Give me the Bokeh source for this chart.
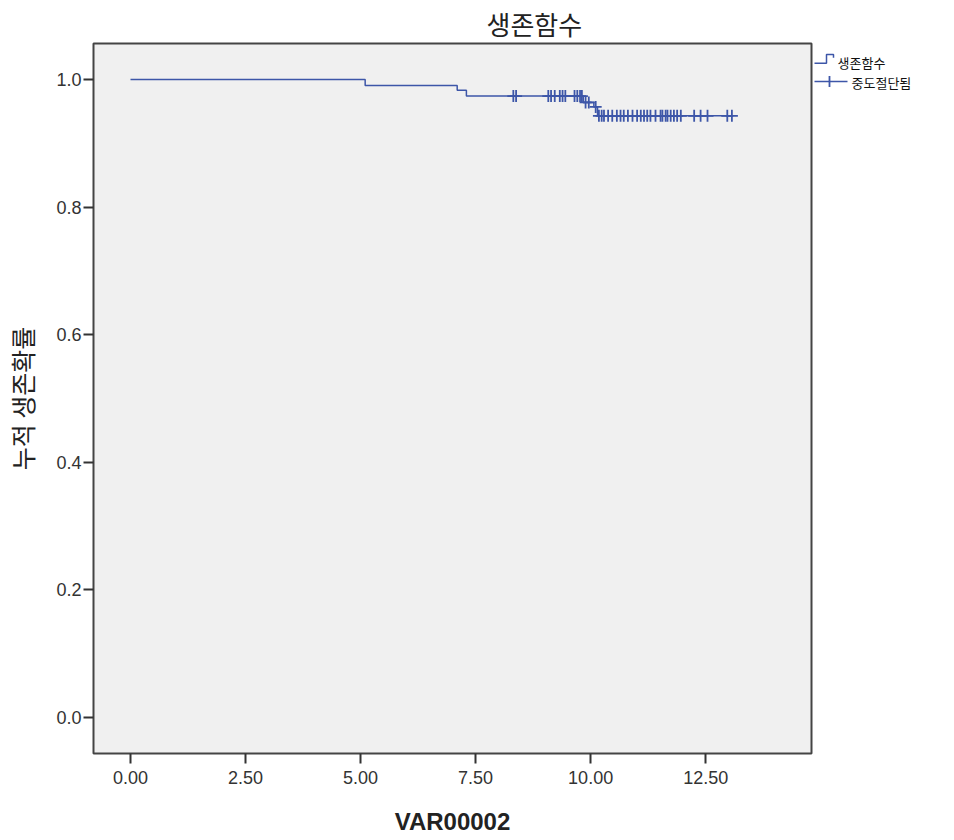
import numpy as np
from bokeh.plotting import figure
from bokeh.layouts import row
from bokeh.models import Range1d, FixedTicker, PrintfTickFormatter
from bokeh.core.properties import value
from bokeh.embed import file_html
from bokeh.resources import INLINE

# ---------------- data ----------------
event_times = [5.10, 7.10, 7.30, 9.84, 10.07, 10.15]
survival = [0.9906, 0.983, 0.974, 0.964, 0.957, 0.943]
censor_times = [8.32, 8.38, 9.08, 9.14, 9.22, 9.33, 9.39, 9.45, 9.65, 9.71,
                9.77, 9.81, 9.89, 9.96, 10.11, 10.18, 10.24, 10.29, 10.38,
                10.47, 10.57, 10.65, 10.72, 10.81, 10.91, 11.01, 11.09, 11.16,
                11.23, 11.30, 11.41, 11.52, 11.56, 11.63, 11.67, 11.74, 11.81,
                11.88, 11.96, 12.25, 12.39, 12.54, 12.97, 13.07]
x_ticks = [0.0, 2.5, 5.0, 7.5, 10.0, 12.5]
y_ticks = [0.0, 0.2, 0.4, 0.6, 0.8, 1.0]
title_text = "생존함수"
x_label = "VAR00002"
y_label = "누적 생존확률"
legend_labels = ["생존함수", "중도절단됨"]

# ---------------- derived ----------------
step_x = [0.0] + event_times + [max(censor_times)]
step_y = [1.0] + survival + [survival[-1]]
idx = np.searchsorted(np.array(event_times), np.array(censor_times), side="right")
levels = np.array([1.0] + survival)
censor_y = levels[idx]

BLUE = "#3D56A8"
KFONT = "Noto Sans CJK KR"
NFONT = "Liberation Sans"
H = 838

p = figure(width=813, height=H,
           x_range=Range1d(-0.804, 14.8), y_range=Range1d(-0.0564, 1.0564),
           output_backend="svg", toolbar_location=None,
           min_border_left=93, min_border_right=2,
           min_border_top=43, min_border_bottom=85)

p.step(step_x, step_y, mode="after", line_color=BLUE, line_width=1.5)
p.scatter(censor_times, censor_y, marker="cross", size=12,
          line_color=BLUE, line_width=1.8)

p.background_fill_color = "#F0F0F0"
p.border_fill_color = "white"
p.outline_line_color = "#444444"
p.outline_line_width = 2
p.grid.visible = False

p.title.text = title_text
p.title.text_font = KFONT
p.title.text_font_size = "26px"
p.title.text_font_style = "normal"
p.title.text_color = "#222222"
p.title.align = "left"
p.title.offset = 393
p.title.vertical_align = "top"
p.title.standoff = 0

for ax in (p.xaxis[0], p.yaxis[0]):
    ax.axis_line_color = None
    ax.major_tick_line_color = "#333333"
    ax.major_tick_line_width = 2
    ax.major_tick_in = 0
    ax.major_tick_out = 10
    ax.minor_tick_line_color = None
    ax.major_label_text_font = NFONT
    ax.major_label_text_font_size = "18px"
    ax.major_label_text_color = "#333333"

p.xaxis.ticker = FixedTicker(ticks=x_ticks)
p.yaxis.ticker = FixedTicker(ticks=y_ticks)
p.xaxis.formatter = PrintfTickFormatter(format="%.2f")
p.yaxis.formatter = PrintfTickFormatter(format="%.1f")
p.xaxis.major_label_standoff = 7
p.yaxis.major_label_standoff = 2

p.xaxis.axis_label = x_label
p.xaxis.axis_label_text_font = NFONT
p.xaxis.axis_label_text_font_style = "bold"
p.xaxis.axis_label_text_font_size = "24px"
p.xaxis.axis_label_text_color = "#222222"
p.xaxis.axis_label_standoff = 21

p.yaxis.axis_label = y_label
p.yaxis.axis_label_text_font = KFONT
p.yaxis.axis_label_text_font_style = "normal"
p.yaxis.axis_label_text_font_size = "25px"
p.yaxis.axis_label_text_color = "#222222"
p.yaxis.axis_label_standoff = 13

# ---------------- legend panel (frame aligned with main frame: 43..753 px) ----------------
lf = figure(width=139, height=H,
            x_range=Range1d(813, 952), y_range=Range1d(753, 43),
            output_backend="svg", toolbar_location=None,
            min_border=0, x_axis_location=None, y_axis_location=None)
lf.outline_line_color = None
lf.grid.visible = False
lf.background_fill_color = "white"
lf.border_fill_color = "white"

# legend symbol 1: survival-function step
lf.line([814, 826, 826, 833, 833], [62.7, 62.7, 54, 54, 57.3],
        line_color=BLUE, line_width=1.5)
# legend symbol 2: censored mark on a line
lf.line([814, 847], [81, 81], line_color=BLUE, line_width=1.5)
lf.line([829, 829], [75.5, 86.5], line_color=BLUE, line_width=1.8)

lf.text([837, 851], [61.5, 81.7], text=legend_labels,
        text_font=value(KFONT), text_font_size="13px",
        text_baseline="middle", text_align="left", text_color="#111111")

layout = row(p, lf)
open("out.html", "w").write(file_html(layout, INLINE))
